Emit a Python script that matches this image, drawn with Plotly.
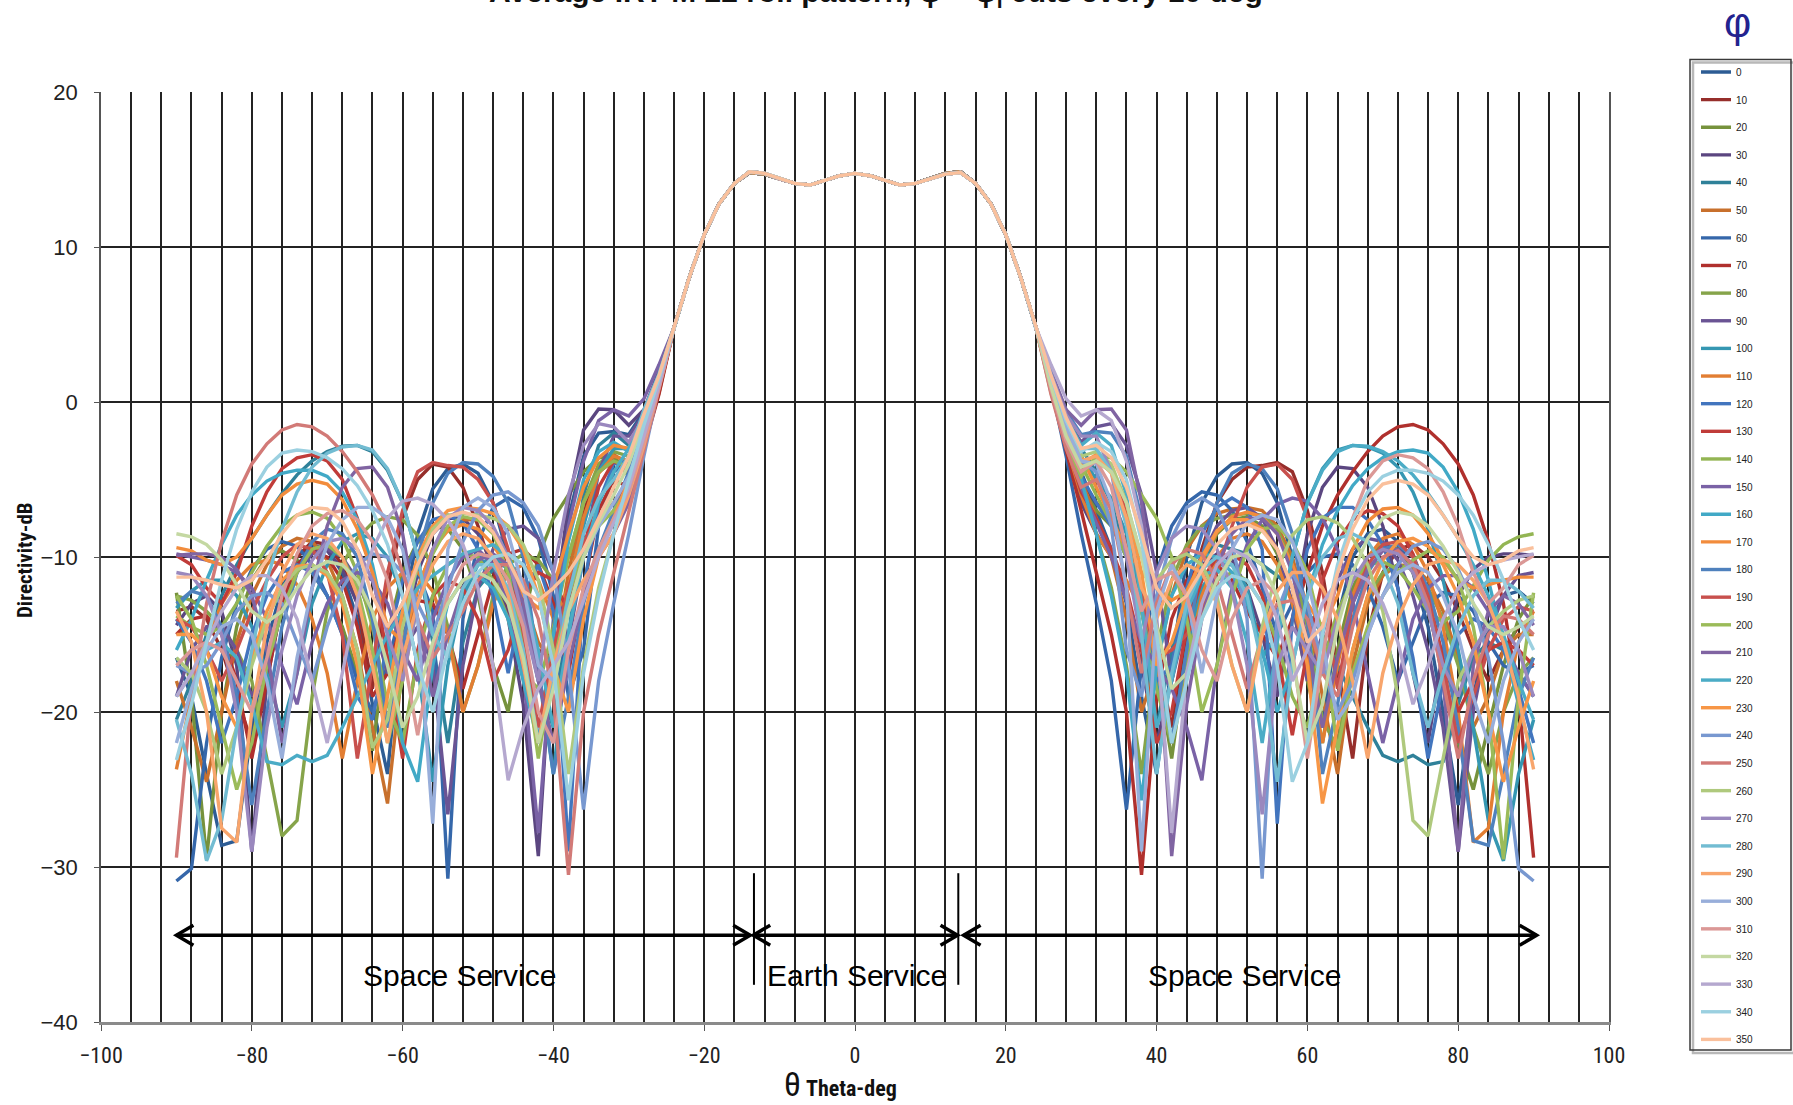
import plotly.graph_objects as go

# ---------------- data ----------------
# theta sampling (deg)
theta_left = list(range(-90, -25, 2))     # -90 .. -26
theta_main = list(range(-24, 25, 2))      # -24 .. 24
theta_right = list(range(26, 91, 2))      # 26 .. 90
theta = theta_left + theta_main + theta_right

phi_values = [0, 10, 20, 30, 40, 50, 60, 70, 80, 90, 100, 110, 120, 130, 140, 150, 160, 170,
              180, 190, 200, 210, 220, 230, 240, 250, 260, 270, 280, 290, 300, 310, 320, 330, 340, 350]

# main beam, common to all cuts (theta -24 .. 24)
main_beam = [4.8, 8.0, 10.8, 12.8, 14.1, 14.8, 14.7, 14.4, 14.1, 14.0, 14.3, 14.6, 14.75,
             14.6, 14.3, 14.0, 14.1, 14.4, 14.75, 14.85, 14.1, 12.8, 10.8, 8.0, 4.8]

# side-lobe regions of each plane cut phi (0..170): left = theta -90..-26, right = theta 26..90
cut0_left = [-16.5, -19, -24, -28.6, -28.3, -21, -15.5, -12, -10, -9.2, -9.5, -11, -14, -19.5, -24, -14, -8.5,
             -5.6, -4.3, -4.0, -4.6, -6.5, -10, -16, -22, -15, -7.5, -3.5, -2.0, -1.9, -2.1, -0.6, 1.8]
cut0_right = [1.5, -1.5, -4.5, -7, -9.5, -13, -19, -24, -17, -10, -6.5, -4.8, -4.0, -3.9, -4.6, -6.5, -10,
              -16, -21, -14, -10, -8.5, -8.2, -9, -11, -14.5, -20, -26, -19, -14.5, -12.5, -12.2, -13.0]

cut10_left = [-13.5, -13.2, -14, -16, -19, -22, -17, -12.5, -10, -9, -9.2, -10.5, -13, -18.5, -12, -7.5, -5,
              -4.0, -4.2, -5.5, -8, -11, -13.5, -15, -16, -16.5, -12.5, -7, -4.5, -3.8, -4.2, -2.2, 0.9]
cut10_right = [1.2, -2, -5, -6.5, -7.5, -9, -12, -16, -21, -15, -9.5, -6.5, -5, -4.2, -4.1, -3.9, -4.5,
               -7, -11, -17, -23, -15, -11, -9.5, -9.2, -10, -11.5, -13.5, -16, -18, -16, -14.5, -14]

cut20_left = [-12.3, -19, -29.5, -20, -14.5, -11.5, -10, -9.6, -10.2, -11, -12.5, -14.5, -17.5, -22.5, -15, -11, -9,
              -8, -8.2, -9.5, -12.5, -17, -20, -14, -10, -7.5, -6, -4.5, -3.6, -3.5, -4.8, -2.8, 0.6]
cut20_right = [1.3, -2.5, -5.5, -7, -8, -9.5, -12.5, -17, -23, -16, -11, -8.5, -7.6, -7.4, -8, -9.8, -13,
               -18, -22, -16, -12, -10, -9.2, -9.5, -11, -13.5, -17, -22, -25, -21, -17, -14, -12.5]

cut30_left = [-14.4, -13, -12.5, -13.5, -17, -29, -18, -13, -10.5, -9.5, -9.6, -10.8, -13, -16.5, -21, -15.5, -11,
              -8.5, -7.5, -7.5, -8.5, -10.5, -14, -19.5, -29.3, -14, -6.5, -1.8, -0.45, -0.5, -1.5, -0.5, 2.0]
cut30_right = [1.0, -3, -6.5, -8.5, -10, -12.5, -17, -22, -18, -13, -10.5, -9.8, -10.2, -12, -15, -19, -14,
               -8.5, -5.5, -4.2, -4.3, -5.5, -8, -12, -17.5, -22, -16, -12.5, -10.8, -10, -9.8, -9.8, -9.9]

cut40_left = [-20.5, -18, -15, -12.5, -10.5, -8.8, -7.3, -5.9, -4.7, -3.8, -3.2, -2.85, -2.8, -3.2, -4.4, -6.5, -10,
              -15.5, -22, -15.5, -12, -10.8, -11.2, -13.5, -18, -21, -13, -6, -2.8, -2.0, -2.8, -1.0, 1.8]
cut40_right = [1.6, -0.8, -3, -4.5, -6.5, -10, -15, -21, -16, -12, -10, -9.2, -9.5, -9.8, -10.5, -11.2, -12,
               -13.5, -15, -17, -19, -21, -22.8, -23.2, -22.8, -23.4, -23.2, -19.5, -16.5, -15.5, -16, -17.5, -19]

cut50_left = [-18, -21, -24.5, -20, -15.5, -12.5, -10.5, -9.3, -8.8, -9.0, -10.2, -12.5, -16, -21, -25.9, -17, -12,
              -9.5, -8.2, -7.6, -7.6, -8.3, -10, -12.5, -15.5, -17, -11, -6.5, -4.2, -3.4, -4, -1.8, 1.2]
cut50_right = [1.4, -1.8, -5, -7.5, -10, -14, -20, -17, -12.5, -9.5, -8, -7.2, -6.9, -6.8, -7.0, -8.0, -10,
               -13.5, -19, -24, -17, -13, -11.2, -10.5, -10.6, -11.5, -13.5, -16.5, -21, -19, -16, -15, -15]

cut60_left = [-30.9, -30.1, -22, -16.5, -13, -10.8, -9.5, -9.0, -9.3, -10.5, -12.5, -15, -18, -20, -17, -13, -11,
              -13.5, -30.75, -14, -9, -6.8, -6.2, -6.8, -8.8, -12.5, -19, -16, -8, -4.5, -3.8, -1.8, 1.3]
cut60_right = [1.0, -3.5, -8.5, -13, -18, -26.3, -17, -11, -8, -6.5, -5.8, -6, -7, -9, -12, -15, -13,
               -11, -10, -9.8, -10.5, -12, -14.5, -18, -15.5, -13, -12.3, -12.5, -13.5, -15.5, -17, -17.5, -17]

cut70_left = [-15, -14, -13.8, -15, -18, -23, -18, -13, -10.5, -9.6, -10, -11.5, -14.5, -19, -17.5, -14, -12.8,
              -13, -15, -18.5, -15, -11.5, -9.8, -9.5, -10.5, -13, -17.5, -12, -7, -5, -5.5, -3, 0.5]
cut70_right = [0.8, -3, -7, -11, -15, -20, -30.5, -19, -14, -11.5, -10.5, -10.5, -11.5, -13.5, -15, -16.5, -14,
               -11, -8, -6, -4.5, -3.2, -2.2, -1.6, -1.45, -1.8, -2.7, -4.0, -6, -9, -13, -19, -29.4]

cut80_left = [-12.5, -12.8, -13.5, -14.5, -16, -18, -23, -28, -27, -19, -13.5, -10.5, -8.8, -7.8, -7.4, -7.6, -8.6,
              -10.8, -14.5, -20, -17, -12.5, -10.5, -9.8, -10.2, -11.5, -10, -6.5, -4, -3.2, -3.5, -1.5, 1.4]
cut80_right = [1.2, -2.2, -5.5, -8.5, -12, -17, -24, -16, -11.5, -9.2, -8, -7.5, -7.3, -7.2, -7.3, -8.2, -10.5,
               -14.5, -20.5, -22.3, -16, -12.5, -11, -10.5, -10.8, -12, -14, -17, -21, -24, -20, -17.5, -16.5]

cut90_left = [-19, -16, -14.5, -14.5, -16, -19, -17, -13.5, -11, -9.8, -9.5, -10, -11.5, -14, -17.5, -16, -14.5,
              -17, -26.6, -17, -12, -9.5, -8.2, -8.0, -8.8, -11, -15.5, -10, -4.5, -2.2, -2.2, -0.8, 1.8]
cut90_right = [1.6, -1.0, -2.6, -1.6, -1.4, -2.8, -6, -11, -18, -14, -10, -8, -7, -6.8, -7.5, -9.5, -13,
               -18, -15, -11.5, -9.5, -8.8, -9, -10.2, -12.5, -16, -21, -29, -20, -15, -12.5, -11.2, -11]

cut100_left = [-13.3, -12.2, -11.5, -11.5, -12.5, -14.5, -17.5, -21, -17.5, -13, -10.5, -9, -8.5, -8.8, -10, -12.5, -17,
               -24.5, -17, -12.5, -10.5, -10, -10.8, -13, -17.5, -24, -15, -8, -4.5, -3.0, -3.0, -1.2, 1.5]
cut100_right = [1.8, -0.5, -3.5, -5, -6.2, -8.5, -12.5, -18, -22, -16, -12, -10.5, -10.5, -12, -16.5, -15, -10,
                -6.5, -4.3, -3.1, -2.8, -2.9, -3.3, -4.2, -5.8, -8.2, -11.5, -16, -21, -27, -29.6, -24, -20.5]

cut110_left = [-23.7, -19, -15.5, -13, -11.5, -10.5, -10.2, -10.5, -11.8, -14, -17.5, -23, -18, -14, -12, -11, -11,
               -12.2, -15, -20, -17, -13, -11, -10.5, -11.5, -14, -12, -7.5, -4.6, -3.5, -3.8, -1.8, 1.1]
cut110_right = [1.0, -2.8, -6, -8.5, -10, -11.5, -13.5, -17, -22, -17, -12.5, -10, -8.8, -8.5, -9, -10.5, -13,
                -16.5, -22, -17, -12.5, -10, -8.8, -8.5, -9.2, -11, -14.5, -20, -28.4, -27.5, -20, -15.5, -13.5]

cut120_left = [-14, -15.5, -18, -22, -19, -15, -12.5, -11, -10.5, -11, -12.5, -15, -19, -20.5, -15.5, -11.5, -9,
               -7.6, -7.3, -7.8, -9.5, -12.5, -17.5, -12.5, -10.5, -13.5, -29, -12, -6.5, -4, -3.8, -1.6, 1.4]
cut120_right = [1.3, -2, -4.8, -6.5, -8, -10, -13.5, -18, -17, -12, -8.5, -6.8, -6.2, -6.8, -9.5, -27.2, -14,
                -9.5, -7.5, -6.8, -6.8, -7.6, -9.2, -12, -16.5, -23, -18, -15, -14, -14.5, -16, -18.5, -22]

cut130_left = [-9.9, -10.5, -12, -13, -11, -8, -5.8, -4.3, -3.6, -3.4, -3.8, -5, -7.5, -11, -16.5, -23, -16,
               -12.5, -11.5, -12, -14, -18, -16, -12.5, -11, -11.5, -13.5, -9.5, -5.5, -3.8, -4.5, -2.5, 0.8]
cut130_right = [0.9, -2.6, -5.8, -7.5, -9.5, -12, -16, -22, -20, -14.5, -11.5, -10, -9.8, -10.5, -12.5, -16, -21.5,
                -16, -11.5, -9, -7.6, -7.0, -7.2, -8, -9.8, -12.5, -16.5, -20, -18, -16, -15.5, -16, -17]

cut140_left = [-13.8, -14.5, -15, -14.5, -13, -11, -9.3, -8, -7.3, -7.1, -7.5, -8.8, -11, -14.5, -19.5, -22, -16.5,
               -12.5, -10.5, -9.8, -10, -11.5, -14, -17.5, -18.5, -14.5, -10, -6.5, -4.5, -3.8, -4.2, -2.2, 1.0]
cut140_right = [1.6, -1.2, -4, -6, -7.8, -10, -13.5, -18.5, -22, -16.5, -13, -11.5, -11, -11.5, -13, -15.5, -19,
                -21, -17, -13.5, -11.5, -10.5, -10.3, -10.8, -12, -13.5, -14.2, -13.5, -11.8, -10.2, -9.2, -8.7, -8.5]

cut150_left = [-9.8, -10, -10.2, -10.5, -11, -12, -14, -17, -19.5, -15.5, -13, -11.5, -11, -11.5, -13, -16, -18,
               -14, -11.5, -10, -9.5, -10.5, -13, -17.5, -27.8, -15, -8, -3.8, -1.2, -0.5, -0.9, 0.2, 2.4]
cut150_right = [1.1, -2.2, -5.5, -7.8, -10, -12.8, -15.5, -17, -18.5, -21, -24.4, -17, -12, -9.2, -7.6, -6.6, -6.2,
                -6.4, -7.5, -9.5, -12.8, -17.5, -22, -18, -14, -12, -11.2, -11.2, -12, -13.5, -15.5, -17.5, -19]

cut160_left = [-16, -14, -11.5, -9.2, -7.3, -6, -5.1, -4.6, -4.4, -4.4, -4.8, -5.8, -7.6, -10.5, -15, -22, -24.5,
               -17, -13, -11.5, -11.2, -12, -14, -18, -22, -15, -9, -5, -3.2, -2.6, -3.2, -1.2, 1.6]
cut160_right = [1.5, -1.5, -5, -8.5, -12.5, -17.5, -25.7, -17, -12.5, -10.5, -9.8, -10, -11, -13, -16, -20, -17,
                -12.5, -9.2, -7, -5.4, -4.3, -3.6, -3.2, -3.1, -3.3, -4.2, -5.8, -8.2, -11.5, -15.5, -19.5, -23.1]

cut170_left = [-9.4, -9.6, -10.2, -10.5, -10, -8.8, -7.3, -6.0, -5.3, -5.05, -5.3, -6.3, -8.2, -11, -14.5, -15.5, -12,
               -9.5, -8.3, -7.9, -8.2, -9.2, -10.8, -12.5, -13.3, -12, -8.5, -5.5, -3.6, -2.8, -3.0, -1.0, 1.7]
cut170_right = [1.7, -0.8, -3.5, -5.5, -7.5, -9.5, -11, -12, -12.8, -12.2, -10.2, -8.4, -7.4, -7.1, -7.4, -8.5, -10.5,
                -13, -14.5, -12.5, -9.5, -7.7, -6.9, -6.8, -7.3, -8.5, -10.2, -11.5, -12, -11.8, -11.5, -11.3, -11.3]

cuts = {
    0: (cut0_left, cut0_right), 10: (cut10_left, cut10_right), 20: (cut20_left, cut20_right),
    30: (cut30_left, cut30_right), 40: (cut40_left, cut40_right), 50: (cut50_left, cut50_right),
    60: (cut60_left, cut60_right), 70: (cut70_left, cut70_right), 80: (cut80_left, cut80_right),
    90: (cut90_left, cut90_right), 100: (cut100_left, cut100_right), 110: (cut110_left, cut110_right),
    120: (cut120_left, cut120_right), 130: (cut130_left, cut130_right), 140: (cut140_left, cut140_right),
    150: (cut150_left, cut150_right), 160: (cut160_left, cut160_right), 170: (cut170_left, cut170_right),
}

series_colors = {
    0: '#2D5C94', 10: '#962E2B', 20: '#76923C', 30: '#5B4680', 40: '#2F8199', 50: '#C8702C',
    60: '#3567AA', 70: '#B0302D', 80: '#86A44A', 90: '#6A5494', 100: '#3597B2', 110: '#E27E33',
    120: '#4275BE', 130: '#C03C39', 140: '#93B553', 150: '#7A62A6', 160: '#41A9C6', 170: '#F28C3C',
    180: '#4F81BD', 190: '#C8504D', 200: '#9BBB59', 210: '#8064A2', 220: '#4BACC6', 230: '#F79646',
    240: '#7898D0', 250: '#D27A77', 260: '#AFC97D', 270: '#9A88BE', 280: '#72BCD2', 290: '#F8A56C',
    300: '#98AEDA', 310: '#DB9896', 320: '#C4D8A2', 330: '#B5A8CF', 340: '#9BD0E0', 350: '#FAC09C',
}

# service bands (theta limits) and their labels
band_edges = [-13.4, 13.7]
band_arrows = [(-90, -13.9), (-13.5, 13.6), (14.4, 90.4)]
band_labels = [(-52.4, 'Space Service'), (0.2, 'Earth Service'), (51.7, 'Space Service')]

for k, (l, r) in cuts.items():
    assert len(l) == len(theta_left), (k, 'left', len(l))
    assert len(r) == len(theta_right), (k, 'right', len(r))
assert len(main_beam) == len(theta_main)

# ---------------- geometry ----------------
W, H = 1793, 1105
ML, MR, MT, MB = 101, 184, 92, 83
PW, PH = W - ML - MR, H - MT - MB
X_RANGE = (-100, 100)
Y_RANGE = (-40, 20)


def px_to_paper_x(px):
    return (px - ML) / PW


def px_to_paper_y(py):
    return 1 - (py - MT) / PH


NARROW = 'Liberation Sans Narrow, Arial Narrow, Roboto Condensed, Liberation Sans, Arial, sans-serif'
SANS = 'Liberation Sans, Arial, sans-serif'

fig = go.Figure()
for phi in phi_values:
    base = phi % 180
    left, right = cuts[base]
    y = left + main_beam + right
    if phi >= 180:
        # the phi+180 half-plane of the same cut: D(phi+180, theta) = D(phi, -theta)
        y = y[::-1]
    fig.add_trace(go.Scatter(
        x=theta, y=y, mode='lines', name=str(phi),
        line=dict(color=series_colors[phi], width=3.4),
        legend='legend' if phi < 180 else 'legend2',
        legendgroup=str(phi),
    ))

grid_col = '#232323'

item_font = 10
item_h = 19
item_step = 27.64
gap = item_step - item_h
first_center = 72
leg_top1 = first_center - item_h / 2 - 5
leg_top2 = leg_top1 + 18 * item_step
leg_x = px_to_paper_x(1696)

legend_common = dict(
    x=leg_x, xanchor='left', yanchor='top', bgcolor='rgba(0,0,0,0)', borderwidth=0,
    font=dict(family=SANS, size=item_font, color='#222'), tracegroupgap=gap,
    traceorder='grouped', itemclick=False, itemdoubleclick=False,
)

annotations = []
# title (cut off at top of the image, as in the source picture)
annotations.append(dict(
    text='<b>Average IRT-M 22 roll pattern, φ = φ<sub>i</sub> cuts every 10 deg</b>',
    xref='paper', yref='paper', x=px_to_paper_x(876), y=px_to_paper_y(14),
    xanchor='center', yanchor='bottom', showarrow=False,
    font=dict(family=SANS, size=30, color='#111')))
# phi symbol over the legend
annotations.append(dict(
    text='φ', xref='paper', yref='paper', x=px_to_paper_x(1738), y=px_to_paper_y(22),
    xanchor='center', yanchor='middle', showarrow=False,
    font=dict(family=SANS, size=42, color='#23238F')))
# axis titles
annotations.append(dict(
    text='<b>Directivity-dB</b>', xref='paper', yref='paper', x=px_to_paper_x(25), y=px_to_paper_y(560),
    xanchor='center', yanchor='middle', textangle=-90, showarrow=False,
    font=dict(family=NARROW, size=21, color='#111')))
annotations.append(dict(
    text='<span style="font-size:34px">θ</span> <b>Theta-deg</b>', xref='paper', yref='paper',
    x=px_to_paper_x(840), y=px_to_paper_y(1084), xanchor='center', yanchor='middle', showarrow=False,
    font=dict(family=NARROW, size=22, color='#111')))
for (tx, txt) in band_labels:
    annotations.append(dict(
        x=tx, y=-37.0, xref='x', yref='y', text=txt, showarrow=False,
        xanchor='center', yanchor='middle', font=dict(family=SANS, size=30, color='black')))

shapes = []
arrow_y = -34.4
# chevron size: ~17 px long, ~10 px half-height, expressed in axis units
deg_per_px = (X_RANGE[1] - X_RANGE[0]) / PW
db_per_px = (Y_RANGE[1] - Y_RANGE[0]) / PH
hx = 17 * deg_per_px
hy = 10 * db_per_px
for (x0, x1) in band_arrows:
    shapes.append(dict(type='line', xref='x', yref='y', x0=x0, x1=x1, y0=arrow_y, y1=arrow_y,
                       line=dict(color='black', width=3.5)))
    for tip, d in [(x0, 1), (x1, -1)]:
        shapes.append(dict(
            type='path', xref='x', yref='y',
            path=f'M {tip + d * hx},{arrow_y + hy} L {tip},{arrow_y} L {tip + d * hx},{arrow_y - hy}',
            line=dict(color='black', width=3.5)))
for bx in band_edges:
    shapes.append(dict(type='line', xref='x', yref='y', x0=bx, x1=bx, y0=-30.4, y1=-37.6,
                       line=dict(color='black', width=2)))
# legend frame with a light shadow
shapes.append(dict(type='rect', xref='paper', yref='paper',
                   x0=px_to_paper_x(1693), x1=px_to_paper_x(1794), y0=px_to_paper_y(1053), y1=px_to_paper_y(62.5),
                   line=dict(color='#b8b8b8', width=2.5)))
shapes.append(dict(type='rect', xref='paper', yref='paper',
                   x0=px_to_paper_x(1690), x1=px_to_paper_x(1791), y0=px_to_paper_y(1050), y1=px_to_paper_y(59.5),
                   line=dict(color='#3a3a3a', width=1.5), fillcolor='rgba(0,0,0,0)'))

fig.update_layout(
    width=W, height=H,
    margin=dict(l=ML, r=MR, t=MT, b=MB, pad=0, autoexpand=False),
    paper_bgcolor='white', plot_bgcolor='white',
    showlegend=True,
    legend=dict(y=px_to_paper_y(leg_top1), **legend_common),
    legend2=dict(y=px_to_paper_y(leg_top2), **legend_common),
    annotations=annotations, shapes=shapes,
    xaxis=dict(range=list(X_RANGE), tickmode='linear', tick0=-100, dtick=20,
               ticks='outside', ticklen=6, tickwidth=1, tickcolor='#555',
               showgrid=True, gridcolor=grid_col, gridwidth=1.5,
               minor=dict(tick0=-100, dtick=4, showgrid=True, gridcolor=grid_col, gridwidth=1.5),
               zeroline=False, showline=True, linecolor='#8a8a8a', linewidth=3,
               tickfont=dict(family=NARROW, size=22, color='#222'), ticklabelstandoff=6),
    yaxis=dict(range=list(Y_RANGE), tickmode='linear', tick0=-40, dtick=10,
               ticks='outside', ticklen=5, tickwidth=1, tickcolor='#555',
               showgrid=True, gridcolor=grid_col, gridwidth=1.5,
               zeroline=False, showline=True, linecolor='#555', linewidth=1.5, mirror=True,
               tickfont=dict(family=SANS, size=22, color='#222'), ticklabelstandoff=12),
)

fig.write_html('out.html')
